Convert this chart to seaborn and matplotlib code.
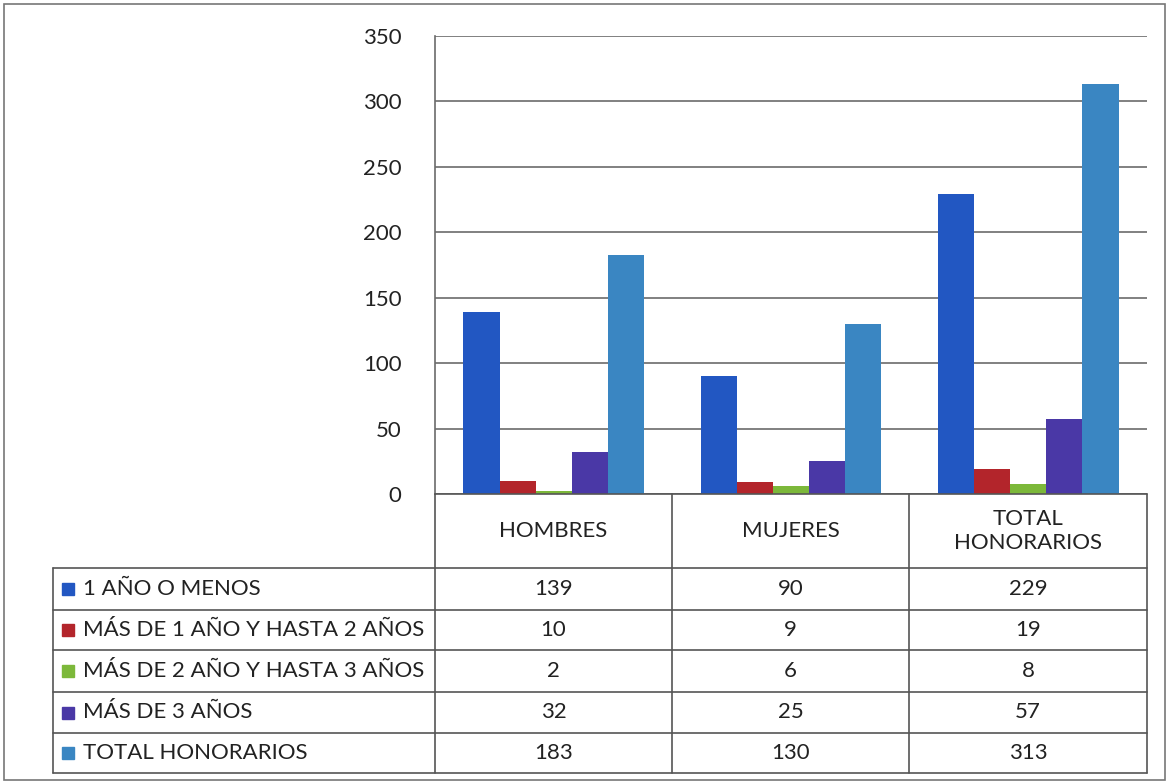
import pandas as pd
import seaborn as sns
import matplotlib.pyplot as plt
from matplotlib.lines import Line2D
from matplotlib.patches import Rectangle

# ===== 数据 =====
categorias = ["HOMBRES", "MUJERES", "TOTAL HONORARIOS"]
encabezados = ["HOMBRES", "MUJERES", "TOTAL\nHONORARIOS"]
series = ["1 AÑO O MENOS", "MÁS DE 1 AÑO Y HASTA 2 AÑOS",
          "MÁS DE 2 AÑO Y HASTA 3 AÑOS", "MÁS DE 3 AÑOS", "TOTAL HONORARIOS"]
v_1_ano = [139, 90, 229]
v_1_2_anos = [10, 9, 19]
v_2_3_anos = [2, 6, 8]
v_mas_3 = [32, 25, 57]
v_total = [183, 130, 313]
yticks = [0, 50, 100, 150, 200, 250, 300, 350]

colores = ["#2257C2", "#B3252B", "#7CB83A", "#4A38A6", "#3A86C2"]

valores = [v_1_ano, v_1_2_anos, v_2_3_anos, v_mas_3, v_total]
df = pd.DataFrame(
    [(c, s, v) for s, vals in zip(series, valores) for c, v in zip(categorias, vals)],
    columns=["categoria", "serie", "valor"])

# ===== 画布 =====
sns.set_style("white")
plt.rcParams['font.family'] = ['Lato', 'DejaVu Sans']
W, H = 1169, 784
fig = plt.figure(figsize=(W / 100, H / 100), dpi=100)

def fx(x):
    return x / W

def fy(y):
    return 1 - y / H

L, R, T, B = 435, 1147, 36, 494
ax = fig.add_axes([fx(L), fy(B), fx(R) - fx(L), fy(T) - fy(B)])

sns.barplot(data=df, x="categoria", y="valor", hue="serie", order=categorias,
            hue_order=series, palette=colores, width=0.76, saturation=1,
            linewidth=0, legend=False, ax=ax)

ax.set_ylim(0, 350)
ax.set_xlim(-0.5, 2.5)
ax.set_yticks(yticks)
ax.yaxis.grid(True, color="#6b6b6b", linewidth=1.2)
ax.set_axisbelow(True)
ax.set_xticks([])
ax.set_xlabel("")
ax.set_ylabel("")
for s in ["top", "right", "bottom"]:
    ax.spines[s].set_visible(False)
ax.spines["left"].set_color("#6b6b6b")
ax.spines["left"].set_linewidth(1.2)
ax.tick_params(axis="y", length=4, color="#6b6b6b", labelsize=16,
               labelcolor="#222222", pad=20)

# ===== 表格 =====
lc = "#555555"
lw = 1.2
fs = 16

def hline(y, x0, x1):
    fig.add_artist(Line2D([fx(x0), fx(x1)], [fy(y), fy(y)], color=lc, lw=lw))

def vline(x, y0, y1):
    fig.add_artist(Line2D([fx(x), fx(x)], [fy(y0), fy(y1)], color=lc, lw=lw))

cols = [435, 672, 909, 1147]
filas = [568, 610, 650, 692, 733, 773]
hline(494, 435, 1147)
for y in filas:
    hline(y, 53, 1147)
for x in cols:
    vline(x, 494, 773)
vline(53, 568, 773)

for i, txt in enumerate(encabezados):
    cx = (cols[i] + cols[i + 1]) / 2
    fig.text(fx(cx), fy(531), txt, ha="center", va="center", fontsize=fs,
             color="#222222", linespacing=1.3)

for j, (s, vals) in enumerate(zip(series, valores)):
    cy = (filas[j] + filas[j + 1]) / 2
    fig.add_artist(Rectangle((fx(62), fy(cy + 6)), fx(12), 12 / H,
                             color=colores[j], transform=fig.transFigure))
    fig.text(fx(83), fy(cy), s, ha="left", va="center", fontsize=fs,
             color="#222222")
    for i, v in enumerate(vals):
        cx = (cols[i] + cols[i + 1]) / 2
        fig.text(fx(cx), fy(cy), str(v), ha="center", va="center",
                 fontsize=fs, color="#222222")

# ===== 外框 =====
fig.add_artist(Rectangle((fx(4), fy(780)), fx(1161), 776 / H, fill=False,
                         edgecolor="#777777", lw=1.2, transform=fig.transFigure))

fig.savefig("out.png", dpi=100)
